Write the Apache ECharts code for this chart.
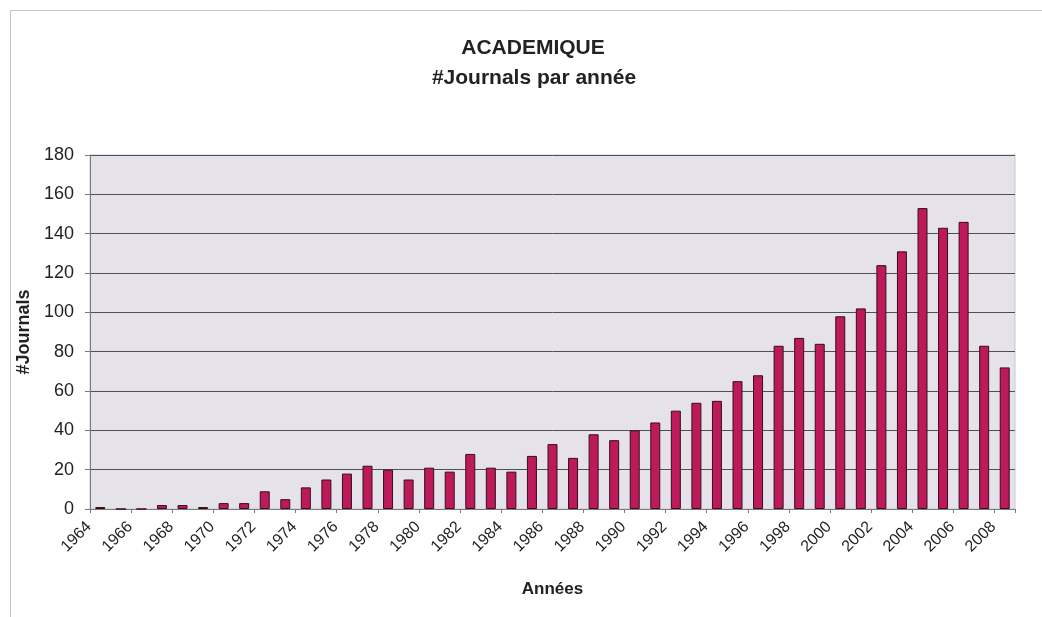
<!DOCTYPE html>
<html>
<head>
<meta charset="utf-8">
<title>ACADEMIQUE - #Journals par année</title>
<script src="https://cdn.jsdelivr.net/npm/echarts@6/dist/echarts.min.js"></script>
<style>
  html, body { margin: 0; padding: 0; background: #fff; }
  #chart { width: 1042px; height: 617px; }
</style>
</head>
<body>
<div id="chart"></div>
<script>
// years shown on the category axis
const years = [
  '1964', '1965', '1966', '1967', '1968', '1969', '1970', '1971', '1972', '1973',
  '1974', '1975', '1976', '1977', '1978', '1979', '1980', '1981', '1982', '1983',
  '1984', '1985', '1986', '1987', '1988', '1989', '1990', '1991', '1992', '1993',
  '1994', '1995', '1996', '1997', '1998', '1999', '2000', '2001', '2002', '2003',
  '2004', '2005', '2006', '2007', '2008'
]

// number of journals per year
const journals = [
  1, 0, 0, 2, 2, 1, 3, 3, 9, 5,
  11, 15, 18, 22, 20, 15, 21, 19, 28, 21,
  19, 27, 33, 26, 38, 35, 40, 44, 50, 54,
  55, 65, 68, 83, 87, 84, 98, 102, 124, 131,
  153, 143, 146, 83, 72
]

const yTicks = { min: 0, max: 180, interval: 20 }

const font = '"Liberation Sans", Arial, sans-serif'
const textColor = '#222'

const chart = echarts.init(document.getElementById('chart'), null, { renderer: 'canvas' })

chart.setOption({
  animation: false,
  backgroundColor: '#fff',
  textStyle: { fontFamily: font },
  graphic: [
    {
      type: 'rect',
      shape: { x: 10.5, y: 10.5, width: 1100, height: 700 },
      style: { fill: 'none', stroke: '#c4c4c4', lineWidth: 1 },
      silent: true
    }
  ],
  title: [
    {
      text: 'ACADEMIQUE',
      left: 528,
      top: 33,
      textAlign: 'center',
      textStyle: { fontFamily: font, fontSize: 21, fontWeight: 'bold', color: textColor }
    },
    {
      text: '#Journals par année',
      left: 529,
      top: 63,
      textAlign: 'center',
      textStyle: { fontFamily: font, fontSize: 21, fontWeight: 'bold', color: textColor }
    }
  ],
  grid: {
    left: 90,
    right: 27,
    top: 155,
    bottom: 108,
    show: true,
    backgroundColor: '#e5e3e9',
    borderColor: '#c8c6cc',
    borderWidth: 1
  },
  xAxis: {
    type: 'category',
    data: years,
    boundaryGap: true,
    name: 'Années',
    nameLocation: 'middle',
    nameGap: 72,
    nameTextStyle: { fontFamily: font, fontSize: 17, fontWeight: 'bold', color: textColor },
    axisLine: { lineStyle: { color: '#7a7a7a', width: 1 } },
    axisTick: { show: true, length: 4, inside: false, lineStyle: { color: '#7a7a7a' } },
    axisLabel: {
      interval: 1,
      rotate: 45,
      margin: 4,
      padding: [0, 16, 0, 0],
      fontFamily: font,
      fontSize: 16,
      color: textColor
    },
    splitLine: { show: false }
  },
  yAxis: {
    type: 'value',
    min: yTicks.min,
    max: yTicks.max,
    interval: yTicks.interval,
    name: '#Journals',
    nameLocation: 'middle',
    nameGap: 56,
    nameTextStyle: { fontFamily: font, fontSize: 18, fontWeight: 'bold', color: textColor },
    axisLine: { show: true, lineStyle: { color: '#7a7a7a', width: 1 } },
    axisTick: { show: true, length: 5, lineStyle: { color: '#7a7a7a' } },
    axisLabel: { margin: 16, fontFamily: font, fontSize: 18, color: textColor },
    splitLine: { show: true, lineStyle: { color: '#505050', width: 1 } }
  },
  series: [
    {
      type: 'bar',
      data: journals,
      barWidth: 10,
      itemStyle: {
        color: '#bc1a5a',
        borderColor: '#3a0c1f',
        borderWidth: 1
      },
      emphasis: { disabled: true }
    }
  ]
})
</script>
</body>
</html>
